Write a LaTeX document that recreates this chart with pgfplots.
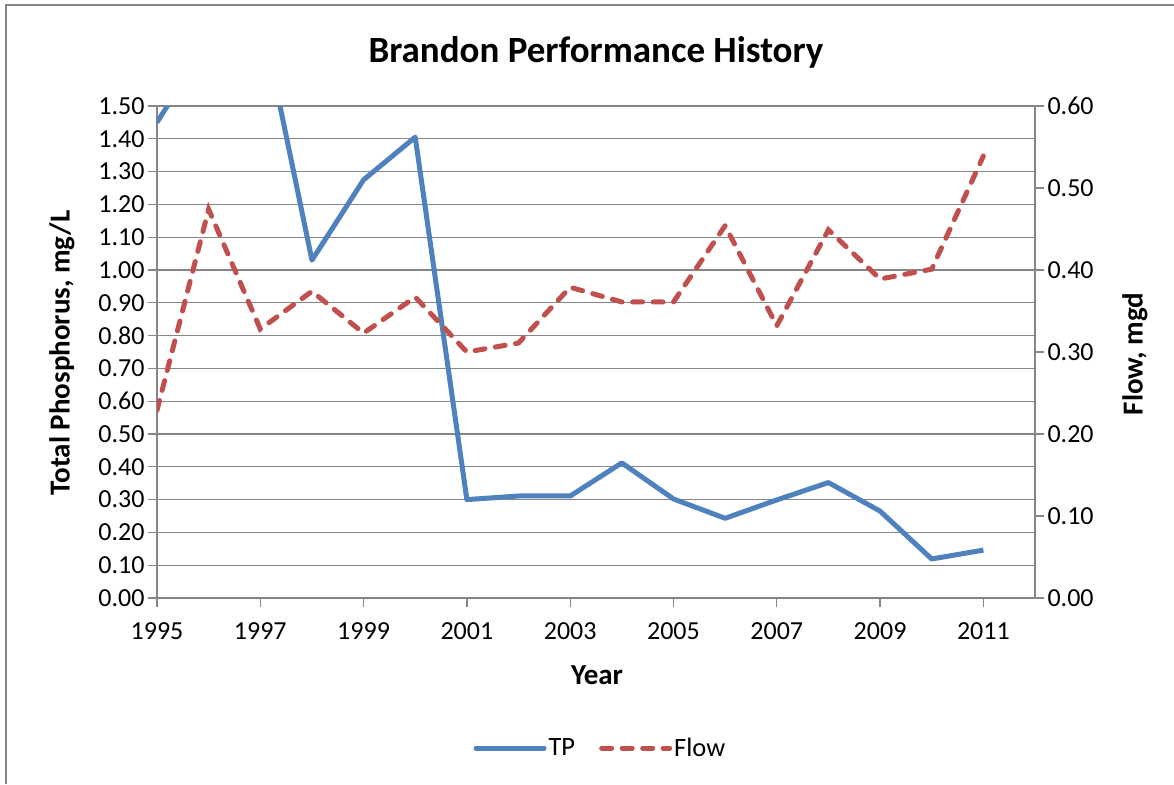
\documentclass[border=0pt]{standalone}
\usepackage{fontspec}
\setmainfont{Carlito}
\usepackage{pgfplots}
\pgfplotsset{compat=1.18}
\definecolor{tpblue}{RGB}{79,129,189}
\definecolor{flowred}{RGB}{192,80,77}
\definecolor{gridgray}{RGB}{134,134,134}
\begin{document}
\begin{tikzpicture}[x=1pt,y=1pt]
\useasboundingbox (0,0) rectangle (1174,-784);
\draw[gridgray, line width=2.5pt] (6,-784) -- (6,-5) -- (1174,-5);
\pgfplotsset{
 every axis/.append style={
  scale only axis, width=878pt, height=492pt,
  at={(157pt,-598pt)}, anchor=south west,
  xmin=1995, xmax=2012,
  tick label style={font=\fontsize{26}{30}\selectfont},
  /pgf/number format/assume math mode=true,
  major tick length=9pt,
  tick style={gridgray, line width=1.3pt},
  axis line style={gridgray, line width=1.3pt, -},
  tick align=outside,
 }
}
\begin{axis}[
  axis x line*=bottom, axis y line*=left,
  ymin=0, ymax=1.5,
  ytick={0,0.1,0.2,0.3,0.4,0.5,0.6,0.7,0.8,0.9,1.0,1.1,1.2,1.3,1.4,1.5},
  yticklabel style={/pgf/number format/.cd, fixed, fixed zerofill, precision=2},
  xtick={1995,1997,1999,2001,2003,2005,2007,2009,2011},
  xticklabel style={/pgf/number format/1000 sep={}, yshift=-12pt},
  ymajorgrids, grid style={gridgray, line width=1.3pt},
]
\addplot[tpblue, line width=5pt, line join=round] coordinates {
(1995,1.450) (1996,1.700) (1997,1.790) (1998,1.030) (1999,1.275) (2000,1.405)
(2001,0.300) (2002,0.311) (2003,0.311) (2004,0.412) (2005,0.302) (2006,0.243)
(2007,0.299) (2008,0.352) (2009,0.265) (2010,0.119) (2011,0.146)};
\end{axis}
\begin{axis}[
  axis y line*=right, axis x line=none,
  ymin=0, ymax=0.6,
  ytick={0,0.1,0.2,0.3,0.4,0.5,0.6},
  yticklabel style={/pgf/number format/.cd, fixed, fixed zerofill, precision=2},
  legend columns=2,
  legend style={draw=none, fill=none, at={(0.505,-0.305)}, anchor=center,
    font=\fontsize{26.5}{30}\selectfont,
    /tikz/every even column/.append style={column sep=22pt}},
  legend image code/.code={\draw[#1] (0pt,0pt) -- (68pt,0pt);},
]
\addlegendimage{tpblue, line width=5pt, line cap=round}
\addlegendentry{TP}
\addplot[flowred, line width=5pt, line cap=round, dash pattern=on 10pt off 10.5pt] coordinates {
(1995,0.229) (1996,0.474) (1997,0.328) (1998,0.374) (1999,0.323) (2000,0.367)
(2001,0.300) (2002,0.311) (2003,0.379) (2004,0.361) (2005,0.361) (2006,0.454)
(2007,0.332) (2008,0.449) (2009,0.389) (2010,0.401) (2011,0.539)};
\addlegendentry{Flow}
\end{axis}
\node[font=\bfseries\fontsize{37}{44}\selectfont] at (596,-52) {Brandon Performance History};
\node[rotate=90, font=\bfseries\fontsize{29}{34}\selectfont] at (62,-353) {Total Phosphorus, mg/L};
\node[rotate=90, font=\bfseries\fontsize{29}{34}\selectfont] at (1135,-354) {Flow, mgd};
\node[font=\bfseries\fontsize{29}{34}\selectfont] at (597,-675) {Year};
\end{tikzpicture}
\end{document}
